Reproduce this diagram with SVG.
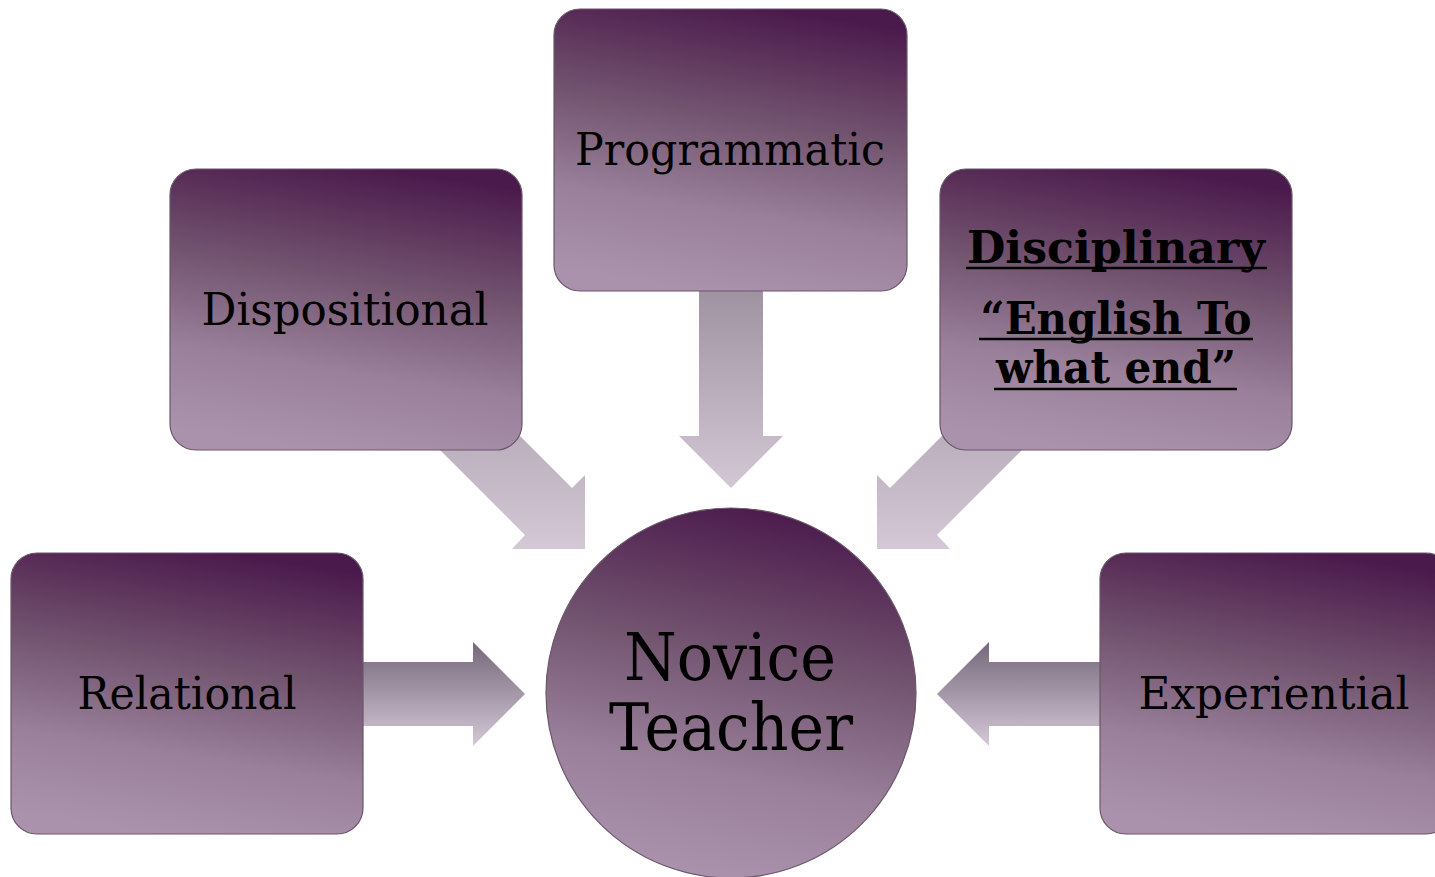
<svg xmlns="http://www.w3.org/2000/svg" width="1435" height="877" viewBox="0 0 1435 877">
<defs>
<linearGradient id="boxg" x1="0.62" y1="0" x2="0.42" y2="1">
<stop offset="0" stop-color="#4b1a4c"/>
<stop offset="0.4" stop-color="#735570"/>
<stop offset="0.72" stop-color="#9a809a"/>
<stop offset="1" stop-color="#aa92ad"/>
</linearGradient>
<linearGradient id="hArr" x1="0" y1="0" x2="0" y2="1">
<stop offset="0" stop-color="#75687a"/>
<stop offset="1" stop-color="#d4c7d6"/>
</linearGradient>
<linearGradient id="vArr" x1="0" y1="0" x2="0" y2="1">
<stop offset="0" stop-color="#9f93a1"/>
<stop offset="1" stop-color="#d3c6d5"/>
</linearGradient>
<linearGradient id="dArr" x1="0" y1="0" x2="0" y2="1">
<stop offset="0" stop-color="#b3a6b5"/>
<stop offset="1" stop-color="#d4c8d6"/>
</linearGradient>
</defs>
<style>
.box{fill:url(#boxg);stroke:#6a566a;stroke-width:1.2}
.lbl{font-family:"DejaVu Serif","Liberation Serif",serif;font-size:44px;fill:#000;text-anchor:middle}
.bold{font-weight:bold}
.big{font-size:66px}
.ul{stroke:#000;stroke-width:2.5}
</style>
<rect width="1435" height="877" fill="#ffffff"/>
<g id="connectors">
<polygon points="699,291 763,291 763,436 783,436 731,488 679,436 699,436" fill="url(#vArr)"/>
<polygon points="487,403 572,488 585,475 585,549 512,549 525,535 440,450" fill="url(#dArr)"/>
<polygon points="975,403 890,488 877,475 877,549 950,549 937,535 1022,450" fill="url(#dArr)"/>
<polygon points="363,662 473,662 473,642 525,694 473,746 473,726 363,726" fill="url(#hArr)"/>
<polygon points="1100,662 989,662 989,642 937,694 989,746 989,726 1100,726" fill="url(#hArr)"/>
</g>
<g id="programmatic">
<rect class="box" x="554" y="9" width="353" height="282" rx="26"/>
<text class="lbl" x="730" y="165" textLength="310" lengthAdjust="spacingAndGlyphs">Programmatic</text>
</g>
<g id="dispositional">
<rect class="box" x="170" y="169" width="352" height="281" rx="26"/>
<text class="lbl" x="345" y="325" textLength="287" lengthAdjust="spacingAndGlyphs">Dispositional</text>
</g>
<g id="disciplinary">
<rect class="box" x="940" y="169" width="352" height="281" rx="26"/>
<text class="lbl bold" x="1116" y="263" textLength="298" lengthAdjust="spacingAndGlyphs">Disciplinary</text>
<line class="ul" x1="966" y1="268" x2="1267" y2="268"/>
<text class="lbl bold" x="1116" y="334" textLength="271" lengthAdjust="spacingAndGlyphs">“English To</text>
<line class="ul" x1="979" y1="339" x2="1253" y2="339"/>
<text class="lbl bold" x="1116" y="383" textLength="240" lengthAdjust="spacingAndGlyphs">what end”</text>
<line class="ul" x1="994" y1="389" x2="1237" y2="389"/>
</g>
<g id="relational">
<rect class="box" x="11" y="553" width="352" height="281" rx="26"/>
<text class="lbl" x="187" y="709" textLength="219" lengthAdjust="spacingAndGlyphs">Relational</text>
</g>
<g id="experiential">
<rect class="box" x="1100" y="553" width="352" height="281" rx="26"/>
<text class="lbl" x="1274" y="709" textLength="271" lengthAdjust="spacingAndGlyphs">Experiential</text>
</g>
<g id="novice-teacher">
<circle class="box" cx="731" cy="693" r="185"/>
<text class="lbl big" x="730" y="680" textLength="212" lengthAdjust="spacingAndGlyphs">Novice</text>
<text class="lbl big" x="731" y="750" textLength="244" lengthAdjust="spacingAndGlyphs">Teacher</text>
</g>
</svg>
